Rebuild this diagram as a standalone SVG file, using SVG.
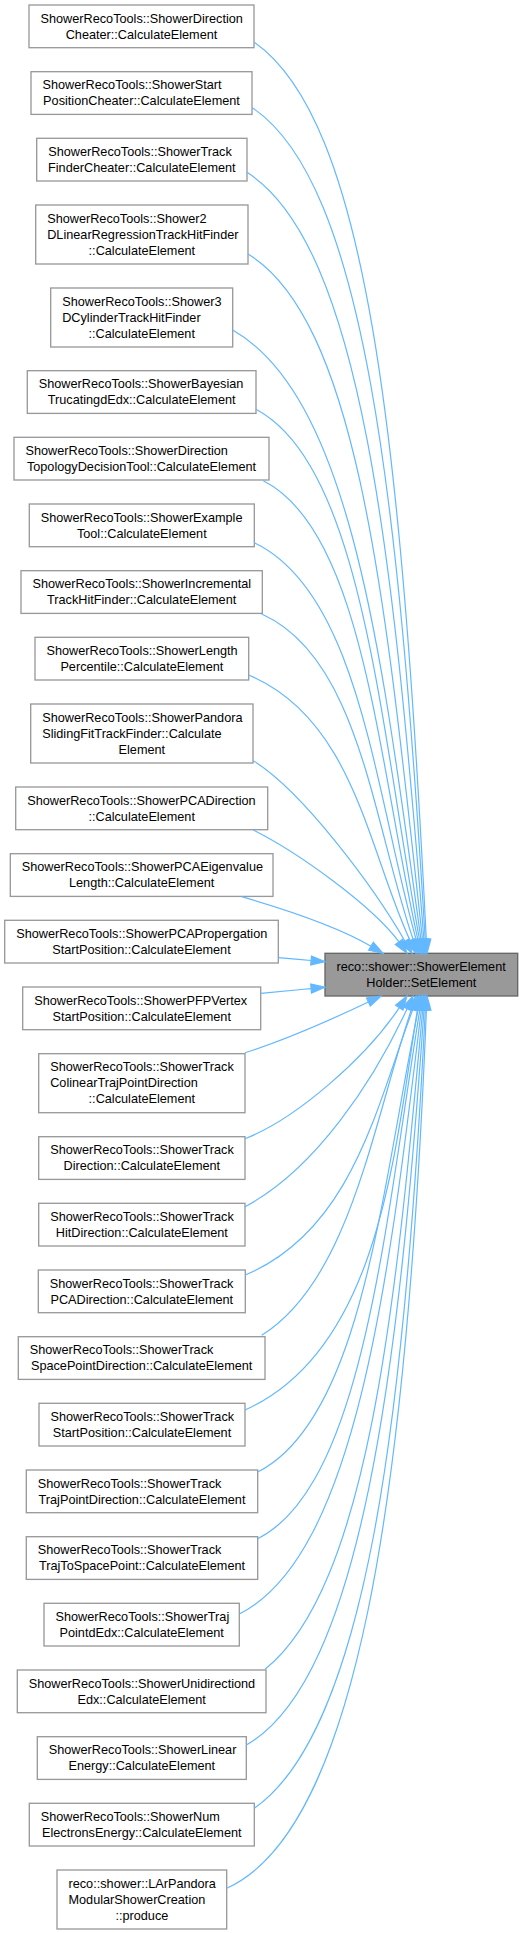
<svg xmlns="http://www.w3.org/2000/svg" width="529" height="1933" viewBox="0 0 529 1933">
<style>
.bg{fill:#ffffff}
.n rect{fill:#ffffff;stroke:#999999;stroke-width:1.33}
.tg rect{fill:#999999;stroke:#666666;stroke-width:1.33}
text{font-family:"Liberation Sans",Arial,Helvetica,sans-serif;font-size:12.7px;fill:#000000}
.c{text-anchor:middle}
.e path{fill:none;stroke:#63b8ff;stroke-width:1.2}
.e polygon{fill:#63b8ff;stroke:#63b8ff;stroke-width:1.2}
</style>
<rect class="bg" x="0" y="0" width="529" height="1933"/>
<g id="nodes">
<g id="node1" class="n"><rect x="29" y="5" width="225" height="42.7"/><text x="40.5" y="22.5">ShowerRecoTools::ShowerDirection</text><text class="c" x="141.5" y="38.5">Cheater::CalculateElement</text></g>
<g id="node2" class="n"><rect x="31" y="71.7" width="221" height="42.7"/><text x="42.5" y="89.2">ShowerRecoTools::ShowerStart</text><text class="c" x="141.5" y="105.2">PositionCheater::CalculateElement</text></g>
<g id="node3" class="n"><rect x="36.7" y="138.3" width="210.3" height="42.7"/><text x="48.2" y="155.8">ShowerRecoTools::ShowerTrack</text><text class="c" x="141.85" y="171.8">FinderCheater::CalculateElement</text></g>
<g id="node4" class="n"><rect x="35.7" y="205" width="212.3" height="59"/><text x="47.2" y="222.5">ShowerRecoTools::Shower2</text><text x="47.2" y="238.5">DLinearRegressionTrackHitFinder</text><text class="c" x="141.85" y="254.5">::CalculateElement</text></g>
<g id="node5" class="n"><rect x="50.7" y="288" width="182" height="59"/><text x="62.2" y="305.5">ShowerRecoTools::Shower3</text><text x="62.2" y="321.5">DCylinderTrackHitFinder</text><text class="c" x="141.7" y="337.5">::CalculateElement</text></g>
<g id="node6" class="n"><rect x="27.3" y="370.7" width="228.7" height="42.7"/><text x="38.8" y="388.2">ShowerRecoTools::ShowerBayesian</text><text class="c" x="141.65" y="404.2">TrucatingdEdx::CalculateElement</text></g>
<g id="node7" class="n"><rect x="14" y="437.3" width="255" height="42.7"/><text x="25.5" y="454.8">ShowerRecoTools::ShowerDirection</text><text class="c" x="141.5" y="470.8">TopologyDecisionTool::CalculateElement</text></g>
<g id="node8" class="n"><rect x="29.3" y="504" width="225" height="42.7"/><text x="40.8" y="521.5">ShowerRecoTools::ShowerExample</text><text class="c" x="141.8" y="537.5">Tool::CalculateElement</text></g>
<g id="node9" class="n"><rect x="21" y="570.7" width="241.3" height="42.7"/><text x="32.5" y="588.2">ShowerRecoTools::ShowerIncremental</text><text class="c" x="141.65" y="604.2">TrackHitFinder::CalculateElement</text></g>
<g id="node10" class="n"><rect x="35" y="637.3" width="213.7" height="42.7"/><text x="46.5" y="654.8">ShowerRecoTools::ShowerLength</text><text class="c" x="141.85" y="670.8">Percentile::CalculateElement</text></g>
<g id="node11" class="n"><rect x="30.7" y="704" width="222.3" height="59"/><text x="42.2" y="721.5">ShowerRecoTools::ShowerPandora</text><text x="42.2" y="737.5">SlidingFitTrackFinder::Calculate</text><text class="c" x="141.85" y="753.5">Element</text></g>
<g id="node12" class="n"><rect x="15.7" y="787" width="252" height="42.7"/><text x="27.2" y="804.5">ShowerRecoTools::ShowerPCADirection</text><text class="c" x="141.7" y="820.5">::CalculateElement</text></g>
<g id="node13" class="n"><rect x="10.3" y="853.7" width="262.7" height="42.7"/><text x="21.8" y="871.2">ShowerRecoTools::ShowerPCAEigenvalue</text><text class="c" x="141.65" y="887.2">Length::CalculateElement</text></g>
<g id="node14" class="n"><rect x="4.7" y="920.3" width="273.6" height="42.7"/><text x="16.2" y="937.8">ShowerRecoTools::ShowerPCAPropergation</text><text class="c" x="141.5" y="953.8">StartPosition::CalculateElement</text></g>
<g id="node15" class="n"><rect x="22.7" y="987" width="238" height="42.7"/><text x="34.2" y="1004.5">ShowerRecoTools::ShowerPFPVertex</text><text class="c" x="141.7" y="1020.5">StartPosition::CalculateElement</text></g>
<g id="node16" class="n"><rect x="38.7" y="1053.7" width="206.3" height="59"/><text x="50.2" y="1071.2">ShowerRecoTools::ShowerTrack</text><text x="50.2" y="1087.2">ColinearTrajPointDirection</text><text class="c" x="141.85" y="1103.2">::CalculateElement</text></g>
<g id="node17" class="n"><rect x="38.7" y="1136.7" width="206.3" height="42.7"/><text x="50.2" y="1154.2">ShowerRecoTools::ShowerTrack</text><text class="c" x="141.85" y="1170.2">Direction::CalculateElement</text></g>
<g id="node18" class="n"><rect x="38.7" y="1203.3" width="206.3" height="42.7"/><text x="50.2" y="1220.8">ShowerRecoTools::ShowerTrack</text><text class="c" x="141.85" y="1236.8">HitDirection::CalculateElement</text></g>
<g id="node19" class="n"><rect x="38.3" y="1270" width="207" height="42.7"/><text x="49.8" y="1287.5">ShowerRecoTools::ShowerTrack</text><text class="c" x="141.8" y="1303.5">PCADirection::CalculateElement</text></g>
<g id="node20" class="n"><rect x="18.3" y="1336.7" width="246.7" height="42.7"/><text x="29.8" y="1354.2">ShowerRecoTools::ShowerTrack</text><text class="c" x="141.65" y="1370.2">SpacePointDirection::CalculateElement</text></g>
<g id="node21" class="n"><rect x="39" y="1403.3" width="206" height="42.7"/><text x="50.5" y="1420.8">ShowerRecoTools::ShowerTrack</text><text class="c" x="142" y="1436.8">StartPosition::CalculateElement</text></g>
<g id="node22" class="n"><rect x="26.3" y="1470" width="231.4" height="42.7"/><text x="37.8" y="1487.5">ShowerRecoTools::ShowerTrack</text><text class="c" x="142" y="1503.5">TrajPointDirection::CalculateElement</text></g>
<g id="node23" class="n"><rect x="26.3" y="1536.7" width="231.4" height="42.7"/><text x="37.8" y="1554.2">ShowerRecoTools::ShowerTrack</text><text class="c" x="142" y="1570.2">TrajToSpacePoint::CalculateElement</text></g>
<g id="node24" class="n"><rect x="44" y="1603.3" width="195.3" height="42.7"/><text x="55.5" y="1620.8">ShowerRecoTools::ShowerTraj</text><text class="c" x="141.65" y="1636.8">PointdEdx::CalculateElement</text></g>
<g id="node25" class="n"><rect x="17.3" y="1670" width="248.7" height="42.7"/><text x="28.8" y="1687.5">ShowerRecoTools::ShowerUnidirectiond</text><text class="c" x="141.65" y="1703.5">Edx::CalculateElement</text></g>
<g id="node26" class="n"><rect x="37.3" y="1736.7" width="209" height="42.7"/><text x="48.8" y="1754.2">ShowerRecoTools::ShowerLinear</text><text class="c" x="141.8" y="1770.2">Energy::CalculateElement</text></g>
<g id="node27" class="n"><rect x="29.3" y="1803.3" width="225" height="42.7"/><text x="40.8" y="1820.8">ShowerRecoTools::ShowerNum</text><text class="c" x="141.8" y="1836.8">ElectronsEnergy::CalculateElement</text></g>
<g id="node28" class="n"><rect x="57" y="1870" width="169.7" height="59"/><text x="68.5" y="1887.5">reco::shower::LArPandora</text><text x="68.5" y="1903.5">ModularShowerCreation</text><text class="c" x="141.85" y="1919.5">::produce</text></g>
<g id="node0" class="tg"><rect x="325" y="953.3" width="192.7" height="42.7"/><text x="336.5" y="970.8">reco::shower::ShowerElement</text><text class="c" x="421.35" y="986.8">Holder::SetElement</text></g>
</g>
<g id="edges" class="e">
<g id="edge1"><path d="M254.3,42.3 C366.1,120.6 400.8,429.8 426.3,939.3"/><polygon points="427,953.3 421.8,939.5 430.8,939.1"/></g>
<g id="edge2"><path d="M252.3,107.7 C364.7,183 398.5,496 425.2,939.3"/><polygon points="426,953.3 420.7,939.6 429.7,939"/></g>
<g id="edge3"><path d="M247,172.3 C362,245.9 393.1,555.3 423.9,939.3"/><polygon points="425,953.3 419.4,939.7 428.4,938.9"/></g>
<g id="edge4"><path d="M248,254 C361.4,322.6 387.2,620.7 422.5,939.4"/><polygon points="424,953.3 418,939.9 427,938.9"/></g>
<g id="edge5"><path d="M232.7,330 C355.1,399.9 383.5,674.3 421,939.4"/><polygon points="423,953.3 416.5,940 425.5,938.8"/></g>
<g id="edge6"><path d="M256,409.3 C362.3,466.3 380,723.7 419.5,939.5"/><polygon points="422,953.3 415.1,940.3 423.9,938.7"/></g>
<g id="edge7"><path d="M263.3,480.7 C363.8,531.4 378.1,762.9 417.9,939.6"/><polygon points="421,953.3 413.5,940.6 422.3,938.6"/></g>
<g id="edge8"><path d="M254.3,542.7 C359.5,592.8 375.1,793.3 416.2,939.8"/><polygon points="420,953.3 411.9,941 420.5,938.6"/></g>
<g id="edge9"><path d="M261.7,614 C360.3,657.9 373.2,825 413.4,940.1"/><polygon points="418,953.3 409.2,941.6 417.7,938.6"/></g>
<g id="edge10"><path d="M248.7,675 C353.6,718.9 368.1,849.8 410.1,940.6"/><polygon points="416,953.3 406,942.5 414.2,938.7"/></g>
<g id="edge11"><path d="M253.3,760.7 C304.3,792.5 375,889.2 405,941.2"/><polygon points="412,953.3 401.1,943.5 408.9,939"/></g>
<g id="edge12"><path d="M253.3,830 C300,853.5 372,905.8 399,941.8"/><polygon points="407,953.3 395.3,944.4 402.7,939.2"/></g>
<g id="edge13"><path d="M241.7,896.7 C281.7,908.3 336,925.7 371,946.2"/><polygon points="383,953.3 368.7,950.1 373.3,942.3"/></g>
<g id="edge14"><path d="M278.3,957.7 C290,958.7 300,959.6 311.1,960.5"/><polygon points="325,961.7 310.7,965 311.5,956"/></g>
<g id="edge15"><path d="M260.7,993.3 C280,991.5 295,990.1 311.1,988.6"/><polygon points="325,987.3 311.5,993.1 310.7,984.1"/></g>
<g id="edge16"><path d="M245,1052.7 C283,1040.7 336.9,1017 368.4,1002"/><polygon points="381,996 370.3,1006.1 366.5,997.9"/></g>
<g id="edge17"><path d="M245,1138.7 C296.2,1118.9 366.3,1057.4 399.3,1007.6"/><polygon points="407,996 403,1010.1 395.6,1005.1"/></g>
<g id="edge18"><path d="M245,1206.7 C315,1170 373.5,1081.5 407.1,1008.7"/><polygon points="413,996 411.2,1010.6 403,1006.8"/></g>
<g id="edge19"><path d="M245.3,1275 C354.3,1229.2 377.9,1100 413,1009.1"/><polygon points="418,996 417.2,1010.7 408.8,1007.5"/></g>
<g id="edge20"><path d="M261.7,1335.3 C350,1280 372.7,1124.3 411.5,1009.3"/><polygon points="416,996 415.8,1010.7 407.2,1007.9"/></g>
<g id="edge21"><path d="M245,1410 C380,1350 395,1150 417.4,1009.9"/><polygon points="419.5,996 421.9,1010.6 412.9,1009.2"/></g>
<g id="edge22"><path d="M257.7,1472 C362,1419.8 381.8,1188.2 418.2,1009.7"/><polygon points="421,996 422.6,1010.6 413.8,1008.8"/></g>
<g id="edge23"><path d="M257.7,1538.7 C363.1,1486 385,1224.7 419.8,1009.8"/><polygon points="422,996 424.2,1010.5 415.4,1009.1"/></g>
<g id="edge24"><path d="M239.3,1614 C357.6,1554.8 389.7,1271.4 421.3,1009.9"/><polygon points="423,996 425.8,1010.4 416.8,1009.4"/></g>
<g id="edge25"><path d="M265,1669.3 C367.5,1587.3 395.6,1309.3 422.7,1009.9"/><polygon points="424,996 427.2,1010.3 418.2,1009.5"/></g>
<g id="edge26"><path d="M246.3,1745 C361.8,1679.2 398.9,1367.9 424,1010"/><polygon points="425,996 428.5,1010.3 419.5,1009.7"/></g>
<g id="edge27"><path d="M254.3,1808.3 C365.5,1730.5 404.6,1422.7 425.3,1010"/><polygon points="426,996 429.8,1010.2 420.8,1009.8"/></g>
<g id="edge28"><path d="M226.7,1888.3 C356.5,1829.9 406.8,1500 426.4,1010"/><polygon points="427,996 430.9,1010.2 421.9,1009.8"/></g>
</g>
</svg>
